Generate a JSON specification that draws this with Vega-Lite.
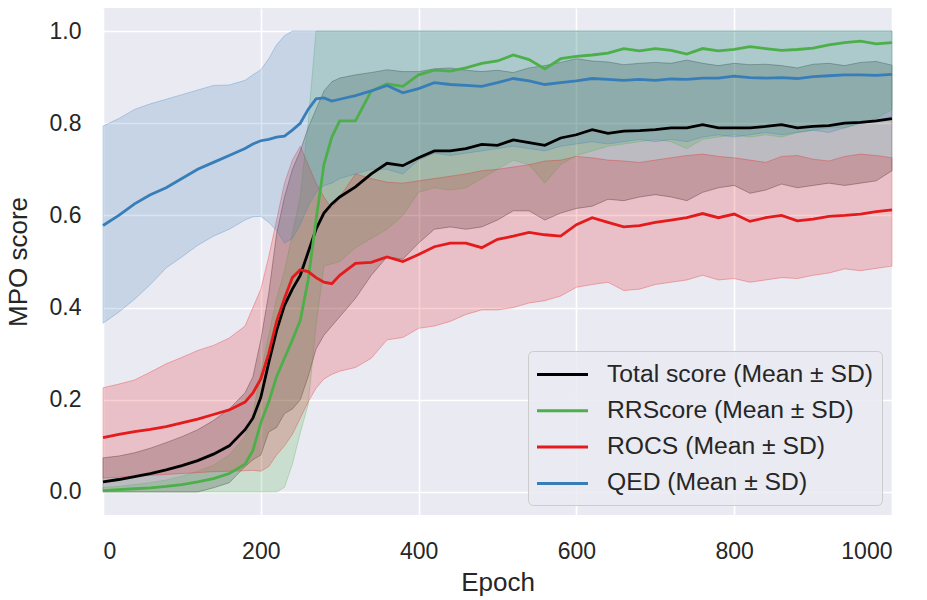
{
"$schema": "https://vega.github.io/schema/vega-lite/v6.json",
"width": 789, "height": 507,
"autosize": {"type": "none"},
"padding": {"left": 103, "top": 8, "right": 35, "bottom": 85},
"background": "white",
"config": {
 "font": "Liberation Sans",
 "view": {"fill": "#EAEAF2", "stroke": null},
 "axis": {"grid": true, "gridColor": "#FFFFFF", "gridWidth": 1.6, "domain": false, "ticks": false, "tickSize": 0, "labelFont": "Liberation Sans", "labelFontSize": 23, "labelColor": "#262626", "titleFont": "Liberation Sans", "titleFontSize": 26, "titleFontWeight": "normal", "titleColor": "#262626"}
},
"data": {"values": [
{"s":"Total score (Mean ± SD)","e":0,"m":0.022,"lo":0,"hi":0.074},
{"s":"Total score (Mean ± SD)","e":20,"m":0.027,"lo":0,"hi":0.078},
{"s":"Total score (Mean ± SD)","e":40,"m":0.033,"lo":0,"hi":0.085},
{"s":"Total score (Mean ± SD)","e":60,"m":0.04,"lo":0,"hi":0.095},
{"s":"Total score (Mean ± SD)","e":80,"m":0.048,"lo":0,"hi":0.107},
{"s":"Total score (Mean ± SD)","e":100,"m":0.057,"lo":0,"hi":0.12},
{"s":"Total score (Mean ± SD)","e":120,"m":0.068,"lo":0,"hi":0.135},
{"s":"Total score (Mean ± SD)","e":140,"m":0.082,"lo":0.009,"hi":0.155},
{"s":"Total score (Mean ± SD)","e":160,"m":0.10,"lo":0.02,"hi":0.18},
{"s":"Total score (Mean ± SD)","e":180,"m":0.135,"lo":0.055,"hi":0.215},
{"s":"Total score (Mean ± SD)","e":190,"m":0.16,"lo":0.07,"hi":0.25},
{"s":"Total score (Mean ± SD)","e":200,"m":0.205,"lo":0.08,"hi":0.33},
{"s":"Total score (Mean ± SD)","e":210,"m":0.28,"lo":0.13,"hi":0.43},
{"s":"Total score (Mean ± SD)","e":220,"m":0.35,"lo":0.14,"hi":0.56},
{"s":"Total score (Mean ± SD)","e":230,"m":0.405,"lo":0.17,"hi":0.64},
{"s":"Total score (Mean ± SD)","e":240,"m":0.44,"lo":0.18,"hi":0.70},
{"s":"Total score (Mean ± SD)","e":250,"m":0.47,"lo":0.20,"hi":0.74},
{"s":"Total score (Mean ± SD)","e":260,"m":0.52,"lo":0.25,"hi":0.79},
{"s":"Total score (Mean ± SD)","e":270,"m":0.57,"lo":0.31,"hi":0.83},
{"s":"Total score (Mean ± SD)","e":280,"m":0.605,"lo":0.34,"hi":0.87},
{"s":"Total score (Mean ± SD)","e":290,"m":0.625,"lo":0.36,"hi":0.89},
{"s":"Total score (Mean ± SD)","e":300,"m":0.64,"lo":0.38,"hi":0.898},
{"s":"Total score (Mean ± SD)","e":320,"m":0.662,"lo":0.42,"hi":0.905},
{"s":"Total score (Mean ± SD)","e":340,"m":0.69,"lo":0.47,"hi":0.91},
{"s":"Total score (Mean ± SD)","e":360,"m":0.713,"lo":0.51,"hi":0.916},
{"s":"Total score (Mean ± SD)","e":380,"m":0.708,"lo":0.505,"hi":0.912},
{"s":"Total score (Mean ± SD)","e":400,"m":0.725,"lo":0.54,"hi":0.912},
{"s":"Total score (Mean ± SD)","e":420,"m":0.74,"lo":0.57,"hi":0.918},
{"s":"Total score (Mean ± SD)","e":440,"m":0.74,"lo":0.575,"hi":0.92},
{"s":"Total score (Mean ± SD)","e":460,"m":0.745,"lo":0.57,"hi":0.915},
{"s":"Total score (Mean ± SD)","e":480,"m":0.754,"lo":0.575,"hi":0.912},
{"s":"Total score (Mean ± SD)","e":500,"m":0.752,"lo":0.59,"hi":0.915},
{"s":"Total score (Mean ± SD)","e":520,"m":0.764,"lo":0.61,"hi":0.91},
{"s":"Total score (Mean ± SD)","e":540,"m":0.758,"lo":0.61,"hi":0.92},
{"s":"Total score (Mean ± SD)","e":560,"m":0.752,"lo":0.59,"hi":0.925},
{"s":"Total score (Mean ± SD)","e":580,"m":0.768,"lo":0.605,"hi":0.932},
{"s":"Total score (Mean ± SD)","e":600,"m":0.775,"lo":0.615,"hi":0.94},
{"s":"Total score (Mean ± SD)","e":620,"m":0.786,"lo":0.62,"hi":0.935},
{"s":"Total score (Mean ± SD)","e":640,"m":0.778,"lo":0.635,"hi":0.933},
{"s":"Total score (Mean ± SD)","e":660,"m":0.783,"lo":0.632,"hi":0.927},
{"s":"Total score (Mean ± SD)","e":680,"m":0.784,"lo":0.64,"hi":0.93},
{"s":"Total score (Mean ± SD)","e":700,"m":0.786,"lo":0.645,"hi":0.932},
{"s":"Total score (Mean ± SD)","e":720,"m":0.79,"lo":0.64,"hi":0.93},
{"s":"Total score (Mean ± SD)","e":740,"m":0.79,"lo":0.632,"hi":0.937},
{"s":"Total score (Mean ± SD)","e":760,"m":0.797,"lo":0.65,"hi":0.93},
{"s":"Total score (Mean ± SD)","e":780,"m":0.79,"lo":0.66,"hi":0.925},
{"s":"Total score (Mean ± SD)","e":800,"m":0.79,"lo":0.665,"hi":0.93},
{"s":"Total score (Mean ± SD)","e":820,"m":0.79,"lo":0.648,"hi":0.927},
{"s":"Total score (Mean ± SD)","e":840,"m":0.793,"lo":0.655,"hi":0.928},
{"s":"Total score (Mean ± SD)","e":860,"m":0.797,"lo":0.668,"hi":0.925},
{"s":"Total score (Mean ± SD)","e":880,"m":0.79,"lo":0.66,"hi":0.92},
{"s":"Total score (Mean ± SD)","e":900,"m":0.793,"lo":0.665,"hi":0.928},
{"s":"Total score (Mean ± SD)","e":920,"m":0.795,"lo":0.67,"hi":0.93},
{"s":"Total score (Mean ± SD)","e":940,"m":0.80,"lo":0.665,"hi":0.925},
{"s":"Total score (Mean ± SD)","e":960,"m":0.802,"lo":0.67,"hi":0.932},
{"s":"Total score (Mean ± SD)","e":980,"m":0.805,"lo":0.675,"hi":0.934},
{"s":"Total score (Mean ± SD)","e":1000,"m":0.81,"lo":0.697,"hi":0.926},
{"s":"RRScore (Mean ± SD)","e":0,"m":0.003,"lo":0,"hi":0.01},
{"s":"RRScore (Mean ± SD)","e":20,"m":0.005,"lo":0,"hi":0.012},
{"s":"RRScore (Mean ± SD)","e":40,"m":0.007,"lo":0,"hi":0.016},
{"s":"RRScore (Mean ± SD)","e":60,"m":0.009,"lo":0,"hi":0.02},
{"s":"RRScore (Mean ± SD)","e":80,"m":0.012,"lo":0,"hi":0.026},
{"s":"RRScore (Mean ± SD)","e":100,"m":0.016,"lo":0,"hi":0.034},
{"s":"RRScore (Mean ± SD)","e":120,"m":0.022,"lo":0,"hi":0.045},
{"s":"RRScore (Mean ± SD)","e":140,"m":0.029,"lo":0,"hi":0.058},
{"s":"RRScore (Mean ± SD)","e":160,"m":0.04,"lo":0,"hi":0.08},
{"s":"RRScore (Mean ± SD)","e":180,"m":0.06,"lo":0,"hi":0.12},
{"s":"RRScore (Mean ± SD)","e":190,"m":0.09,"lo":0,"hi":0.17},
{"s":"RRScore (Mean ± SD)","e":200,"m":0.15,"lo":0,"hi":0.26},
{"s":"RRScore (Mean ± SD)","e":210,"m":0.195,"lo":0,"hi":0.34},
{"s":"RRScore (Mean ± SD)","e":220,"m":0.25,"lo":0,"hi":0.42},
{"s":"RRScore (Mean ± SD)","e":230,"m":0.29,"lo":0.01,"hi":0.48},
{"s":"RRScore (Mean ± SD)","e":240,"m":0.33,"lo":0.06,"hi":0.56},
{"s":"RRScore (Mean ± SD)","e":250,"m":0.372,"lo":0.128,"hi":0.64},
{"s":"RRScore (Mean ± SD)","e":260,"m":0.46,"lo":0.19,"hi":0.80},
{"s":"RRScore (Mean ± SD)","e":270,"m":0.59,"lo":0.36,"hi":1},
{"s":"RRScore (Mean ± SD)","e":280,"m":0.71,"lo":0.49,"hi":1},
{"s":"RRScore (Mean ± SD)","e":290,"m":0.77,"lo":0.495,"hi":1},
{"s":"RRScore (Mean ± SD)","e":300,"m":0.805,"lo":0.50,"hi":1},
{"s":"RRScore (Mean ± SD)","e":320,"m":0.805,"lo":0.53,"hi":1},
{"s":"RRScore (Mean ± SD)","e":340,"m":0.87,"lo":0.55,"hi":1},
{"s":"RRScore (Mean ± SD)","e":360,"m":0.885,"lo":0.57,"hi":1},
{"s":"RRScore (Mean ± SD)","e":380,"m":0.88,"lo":0.60,"hi":1},
{"s":"RRScore (Mean ± SD)","e":400,"m":0.905,"lo":0.65,"hi":1},
{"s":"RRScore (Mean ± SD)","e":420,"m":0.915,"lo":0.66,"hi":1},
{"s":"RRScore (Mean ± SD)","e":440,"m":0.913,"lo":0.655,"hi":1},
{"s":"RRScore (Mean ± SD)","e":460,"m":0.92,"lo":0.66,"hi":1},
{"s":"RRScore (Mean ± SD)","e":480,"m":0.93,"lo":0.68,"hi":1},
{"s":"RRScore (Mean ± SD)","e":500,"m":0.935,"lo":0.70,"hi":1},
{"s":"RRScore (Mean ± SD)","e":520,"m":0.948,"lo":0.72,"hi":1},
{"s":"RRScore (Mean ± SD)","e":540,"m":0.938,"lo":0.71,"hi":1},
{"s":"RRScore (Mean ± SD)","e":560,"m":0.918,"lo":0.67,"hi":1},
{"s":"RRScore (Mean ± SD)","e":580,"m":0.94,"lo":0.71,"hi":1},
{"s":"RRScore (Mean ± SD)","e":600,"m":0.945,"lo":0.73,"hi":1},
{"s":"RRScore (Mean ± SD)","e":620,"m":0.948,"lo":0.74,"hi":1},
{"s":"RRScore (Mean ± SD)","e":640,"m":0.952,"lo":0.75,"hi":1},
{"s":"RRScore (Mean ± SD)","e":660,"m":0.962,"lo":0.755,"hi":1},
{"s":"RRScore (Mean ± SD)","e":680,"m":0.957,"lo":0.76,"hi":1},
{"s":"RRScore (Mean ± SD)","e":700,"m":0.962,"lo":0.765,"hi":1},
{"s":"RRScore (Mean ± SD)","e":720,"m":0.958,"lo":0.76,"hi":1},
{"s":"RRScore (Mean ± SD)","e":740,"m":0.95,"lo":0.745,"hi":1},
{"s":"RRScore (Mean ± SD)","e":760,"m":0.962,"lo":0.765,"hi":1},
{"s":"RRScore (Mean ± SD)","e":780,"m":0.957,"lo":0.77,"hi":1},
{"s":"RRScore (Mean ± SD)","e":800,"m":0.96,"lo":0.775,"hi":1},
{"s":"RRScore (Mean ± SD)","e":820,"m":0.966,"lo":0.77,"hi":1},
{"s":"RRScore (Mean ± SD)","e":840,"m":0.962,"lo":0.775,"hi":1},
{"s":"RRScore (Mean ± SD)","e":860,"m":0.958,"lo":0.77,"hi":1},
{"s":"RRScore (Mean ± SD)","e":880,"m":0.96,"lo":0.78,"hi":1},
{"s":"RRScore (Mean ± SD)","e":900,"m":0.963,"lo":0.785,"hi":1},
{"s":"RRScore (Mean ± SD)","e":920,"m":0.97,"lo":0.79,"hi":1},
{"s":"RRScore (Mean ± SD)","e":940,"m":0.975,"lo":0.79,"hi":1},
{"s":"RRScore (Mean ± SD)","e":960,"m":0.978,"lo":0.80,"hi":1},
{"s":"RRScore (Mean ± SD)","e":980,"m":0.972,"lo":0.81,"hi":1},
{"s":"RRScore (Mean ± SD)","e":1000,"m":0.975,"lo":0.83,"hi":1},
{"s":"ROCS (Mean ± SD)","e":0,"m":0.118,"lo":0.03,"hi":0.226},
{"s":"ROCS (Mean ± SD)","e":20,"m":0.125,"lo":0.032,"hi":0.234},
{"s":"ROCS (Mean ± SD)","e":40,"m":0.131,"lo":0.034,"hi":0.243},
{"s":"ROCS (Mean ± SD)","e":60,"m":0.136,"lo":0.036,"hi":0.26},
{"s":"ROCS (Mean ± SD)","e":80,"m":0.142,"lo":0.038,"hi":0.278},
{"s":"ROCS (Mean ± SD)","e":100,"m":0.15,"lo":0.04,"hi":0.292},
{"s":"ROCS (Mean ± SD)","e":120,"m":0.158,"lo":0.042,"hi":0.307},
{"s":"ROCS (Mean ± SD)","e":140,"m":0.168,"lo":0.044,"hi":0.318},
{"s":"ROCS (Mean ± SD)","e":160,"m":0.178,"lo":0.045,"hi":0.334},
{"s":"ROCS (Mean ± SD)","e":180,"m":0.195,"lo":0.046,"hi":0.36},
{"s":"ROCS (Mean ± SD)","e":190,"m":0.215,"lo":0.047,"hi":0.40},
{"s":"ROCS (Mean ± SD)","e":200,"m":0.245,"lo":0.045,"hi":0.44},
{"s":"ROCS (Mean ± SD)","e":210,"m":0.30,"lo":0.055,"hi":0.51},
{"s":"ROCS (Mean ± SD)","e":220,"m":0.37,"lo":0.08,"hi":0.59},
{"s":"ROCS (Mean ± SD)","e":230,"m":0.42,"lo":0.10,"hi":0.67},
{"s":"ROCS (Mean ± SD)","e":240,"m":0.465,"lo":0.125,"hi":0.72},
{"s":"ROCS (Mean ± SD)","e":250,"m":0.482,"lo":0.16,"hi":0.75},
{"s":"ROCS (Mean ± SD)","e":260,"m":0.478,"lo":0.195,"hi":0.71},
{"s":"ROCS (Mean ± SD)","e":270,"m":0.465,"lo":0.225,"hi":0.67},
{"s":"ROCS (Mean ± SD)","e":280,"m":0.455,"lo":0.245,"hi":0.64},
{"s":"ROCS (Mean ± SD)","e":290,"m":0.452,"lo":0.255,"hi":0.615},
{"s":"ROCS (Mean ± SD)","e":300,"m":0.47,"lo":0.262,"hi":0.64},
{"s":"ROCS (Mean ± SD)","e":320,"m":0.496,"lo":0.27,"hi":0.69},
{"s":"ROCS (Mean ± SD)","e":340,"m":0.498,"lo":0.29,"hi":0.68},
{"s":"ROCS (Mean ± SD)","e":360,"m":0.51,"lo":0.33,"hi":0.672},
{"s":"ROCS (Mean ± SD)","e":380,"m":0.50,"lo":0.335,"hi":0.67},
{"s":"ROCS (Mean ± SD)","e":400,"m":0.515,"lo":0.355,"hi":0.675},
{"s":"ROCS (Mean ± SD)","e":420,"m":0.532,"lo":0.36,"hi":0.68},
{"s":"ROCS (Mean ± SD)","e":440,"m":0.54,"lo":0.37,"hi":0.685},
{"s":"ROCS (Mean ± SD)","e":460,"m":0.54,"lo":0.385,"hi":0.69},
{"s":"ROCS (Mean ± SD)","e":480,"m":0.53,"lo":0.395,"hi":0.697},
{"s":"ROCS (Mean ± SD)","e":500,"m":0.548,"lo":0.395,"hi":0.70},
{"s":"ROCS (Mean ± SD)","e":520,"m":0.555,"lo":0.40,"hi":0.705},
{"s":"ROCS (Mean ± SD)","e":540,"m":0.563,"lo":0.41,"hi":0.71},
{"s":"ROCS (Mean ± SD)","e":560,"m":0.558,"lo":0.415,"hi":0.718},
{"s":"ROCS (Mean ± SD)","e":580,"m":0.555,"lo":0.425,"hi":0.72},
{"s":"ROCS (Mean ± SD)","e":600,"m":0.58,"lo":0.444,"hi":0.728},
{"s":"ROCS (Mean ± SD)","e":620,"m":0.595,"lo":0.45,"hi":0.725},
{"s":"ROCS (Mean ± SD)","e":640,"m":0.585,"lo":0.455,"hi":0.72},
{"s":"ROCS (Mean ± SD)","e":660,"m":0.575,"lo":0.437,"hi":0.718},
{"s":"ROCS (Mean ± SD)","e":680,"m":0.578,"lo":0.44,"hi":0.715},
{"s":"ROCS (Mean ± SD)","e":700,"m":0.585,"lo":0.45,"hi":0.72},
{"s":"ROCS (Mean ± SD)","e":720,"m":0.59,"lo":0.455,"hi":0.725},
{"s":"ROCS (Mean ± SD)","e":740,"m":0.595,"lo":0.46,"hi":0.73},
{"s":"ROCS (Mean ± SD)","e":760,"m":0.604,"lo":0.47,"hi":0.733},
{"s":"ROCS (Mean ± SD)","e":780,"m":0.595,"lo":0.46,"hi":0.728},
{"s":"ROCS (Mean ± SD)","e":800,"m":0.603,"lo":0.463,"hi":0.725},
{"s":"ROCS (Mean ± SD)","e":820,"m":0.587,"lo":0.455,"hi":0.72},
{"s":"ROCS (Mean ± SD)","e":840,"m":0.595,"lo":0.46,"hi":0.715},
{"s":"ROCS (Mean ± SD)","e":860,"m":0.60,"lo":0.465,"hi":0.728},
{"s":"ROCS (Mean ± SD)","e":880,"m":0.588,"lo":0.463,"hi":0.73},
{"s":"ROCS (Mean ± SD)","e":900,"m":0.592,"lo":0.47,"hi":0.722},
{"s":"ROCS (Mean ± SD)","e":920,"m":0.598,"lo":0.475,"hi":0.718},
{"s":"ROCS (Mean ± SD)","e":940,"m":0.60,"lo":0.484,"hi":0.728},
{"s":"ROCS (Mean ± SD)","e":960,"m":0.603,"lo":0.48,"hi":0.733},
{"s":"ROCS (Mean ± SD)","e":980,"m":0.608,"lo":0.485,"hi":0.73},
{"s":"ROCS (Mean ± SD)","e":1000,"m":0.612,"lo":0.49,"hi":0.725},
{"s":"QED (Mean ± SD)","e":0,"m":0.578,"lo":0.366,"hi":0.794},
{"s":"QED (Mean ± SD)","e":20,"m":0.60,"lo":0.39,"hi":0.81},
{"s":"QED (Mean ± SD)","e":40,"m":0.625,"lo":0.418,"hi":0.83},
{"s":"QED (Mean ± SD)","e":60,"m":0.645,"lo":0.45,"hi":0.842},
{"s":"QED (Mean ± SD)","e":80,"m":0.66,"lo":0.486,"hi":0.852},
{"s":"QED (Mean ± SD)","e":100,"m":0.68,"lo":0.51,"hi":0.862},
{"s":"QED (Mean ± SD)","e":120,"m":0.70,"lo":0.535,"hi":0.872},
{"s":"QED (Mean ± SD)","e":140,"m":0.715,"lo":0.555,"hi":0.882},
{"s":"QED (Mean ± SD)","e":160,"m":0.73,"lo":0.57,"hi":0.883},
{"s":"QED (Mean ± SD)","e":180,"m":0.745,"lo":0.59,"hi":0.893},
{"s":"QED (Mean ± SD)","e":190,"m":0.755,"lo":0.597,"hi":0.905},
{"s":"QED (Mean ± SD)","e":200,"m":0.762,"lo":0.598,"hi":0.916},
{"s":"QED (Mean ± SD)","e":210,"m":0.765,"lo":0.585,"hi":0.94},
{"s":"QED (Mean ± SD)","e":220,"m":0.77,"lo":0.567,"hi":0.97},
{"s":"QED (Mean ± SD)","e":230,"m":0.772,"lo":0.54,"hi":0.99},
{"s":"QED (Mean ± SD)","e":240,"m":0.785,"lo":0.55,"hi":1},
{"s":"QED (Mean ± SD)","e":250,"m":0.80,"lo":0.58,"hi":1},
{"s":"QED (Mean ± SD)","e":260,"m":0.83,"lo":0.62,"hi":1},
{"s":"QED (Mean ± SD)","e":270,"m":0.853,"lo":0.65,"hi":1},
{"s":"QED (Mean ± SD)","e":280,"m":0.855,"lo":0.665,"hi":1},
{"s":"QED (Mean ± SD)","e":290,"m":0.848,"lo":0.67,"hi":1},
{"s":"QED (Mean ± SD)","e":300,"m":0.852,"lo":0.68,"hi":1},
{"s":"QED (Mean ± SD)","e":320,"m":0.86,"lo":0.69,"hi":1},
{"s":"QED (Mean ± SD)","e":340,"m":0.87,"lo":0.70,"hi":1},
{"s":"QED (Mean ± SD)","e":360,"m":0.882,"lo":0.70,"hi":1},
{"s":"QED (Mean ± SD)","e":380,"m":0.866,"lo":0.69,"hi":1},
{"s":"QED (Mean ± SD)","e":400,"m":0.875,"lo":0.72,"hi":1},
{"s":"QED (Mean ± SD)","e":420,"m":0.888,"lo":0.735,"hi":1},
{"s":"QED (Mean ± SD)","e":440,"m":0.884,"lo":0.73,"hi":1},
{"s":"QED (Mean ± SD)","e":460,"m":0.882,"lo":0.735,"hi":1},
{"s":"QED (Mean ± SD)","e":480,"m":0.88,"lo":0.74,"hi":1},
{"s":"QED (Mean ± SD)","e":500,"m":0.888,"lo":0.745,"hi":1},
{"s":"QED (Mean ± SD)","e":520,"m":0.897,"lo":0.75,"hi":1},
{"s":"QED (Mean ± SD)","e":540,"m":0.892,"lo":0.745,"hi":1},
{"s":"QED (Mean ± SD)","e":560,"m":0.884,"lo":0.74,"hi":1},
{"s":"QED (Mean ± SD)","e":580,"m":0.888,"lo":0.75,"hi":1},
{"s":"QED (Mean ± SD)","e":600,"m":0.892,"lo":0.755,"hi":1},
{"s":"QED (Mean ± SD)","e":620,"m":0.897,"lo":0.76,"hi":1},
{"s":"QED (Mean ± SD)","e":640,"m":0.895,"lo":0.755,"hi":1},
{"s":"QED (Mean ± SD)","e":660,"m":0.893,"lo":0.76,"hi":1},
{"s":"QED (Mean ± SD)","e":680,"m":0.895,"lo":0.765,"hi":1},
{"s":"QED (Mean ± SD)","e":700,"m":0.893,"lo":0.76,"hi":1},
{"s":"QED (Mean ± SD)","e":720,"m":0.896,"lo":0.765,"hi":1},
{"s":"QED (Mean ± SD)","e":740,"m":0.895,"lo":0.76,"hi":1},
{"s":"QED (Mean ± SD)","e":760,"m":0.898,"lo":0.77,"hi":1},
{"s":"QED (Mean ± SD)","e":780,"m":0.898,"lo":0.775,"hi":1},
{"s":"QED (Mean ± SD)","e":800,"m":0.902,"lo":0.77,"hi":1},
{"s":"QED (Mean ± SD)","e":820,"m":0.899,"lo":0.775,"hi":1},
{"s":"QED (Mean ± SD)","e":840,"m":0.898,"lo":0.78,"hi":1},
{"s":"QED (Mean ± SD)","e":860,"m":0.899,"lo":0.775,"hi":1},
{"s":"QED (Mean ± SD)","e":880,"m":0.897,"lo":0.78,"hi":1},
{"s":"QED (Mean ± SD)","e":900,"m":0.901,"lo":0.785,"hi":1},
{"s":"QED (Mean ± SD)","e":920,"m":0.903,"lo":0.78,"hi":1},
{"s":"QED (Mean ± SD)","e":940,"m":0.905,"lo":0.79,"hi":1},
{"s":"QED (Mean ± SD)","e":960,"m":0.905,"lo":0.80,"hi":1},
{"s":"QED (Mean ± SD)","e":980,"m":0.904,"lo":0.805,"hi":1},
{"s":"QED (Mean ± SD)","e":1000,"m":0.906,"lo":0.815,"hi":1}
]},
"layer": [
 {"mark": {"type": "area", "fillOpacity": 0.2, "strokeOpacity": 0.3, "strokeWidth": 1},
  "encoding": {
   "x": {"field": "e", "type": "quantitative", "scale": {"domain": [0, 1000], "nice": false}, "axis": {"values": [0, 200, 400, 600, 800, 1000], "format": "d", "title": "Epoch", "labelPadding": 25, "titlePadding": 6}},
   "y": {"field": "lo", "type": "quantitative", "scale": {"domain": [-0.05, 1.05], "nice": false, "zero": false}, "axis": {"values": [0, 0.2, 0.4, 0.6, 0.8, 1.0], "format": ".1f", "title": "MPO score", "labelPadding": 22, "titlePadding": 18}},
   "y2": {"field": "hi"},
   "fill": {"field": "s", "type": "nominal", "scale": {"range": ["#377EB8", "#E41A1C", "#4DAF4A", "#000000"]}, "legend": null},
   "stroke": {"field": "s", "type": "nominal", "scale": {"range": ["#377EB8", "#E41A1C", "#4DAF4A", "#000000"]}, "legend": null}
  }},
 {"mark": {"type": "line", "strokeWidth": 2.8},
  "encoding": {
   "x": {"field": "e", "type": "quantitative", "axis": {"title": "Epoch", "format": "d"}},
   "y": {"field": "m", "type": "quantitative", "axis": {"title": "MPO score"}},
   "color": {"field": "s", "type": "nominal", "scale": {"domain": ["Total score (Mean ± SD)", "RRScore (Mean ± SD)", "ROCS (Mean ± SD)", "QED (Mean ± SD)"], "range": ["#000000", "#4DAF4A", "#E41A1C", "#377EB8"]},
    "legend": {"title": null, "orient": "bottom-right", "offset": 10, "labelFont": "Liberation Sans", "labelFontSize": 24.7, "labelColor": "#262626", "labelLimit": 500, "symbolType": "M-1.96,0H1.96", "symbolSize": 676, "symbolStrokeWidth": 3, "symbolOffset": 11, "rowPadding": 9.3, "padding": 9, "labelOffset": 30, "fillColor": "rgba(234,234,242,0.85)", "strokeColor": "#CCCCCC", "cornerRadius": 5}}
  }}
]
}
